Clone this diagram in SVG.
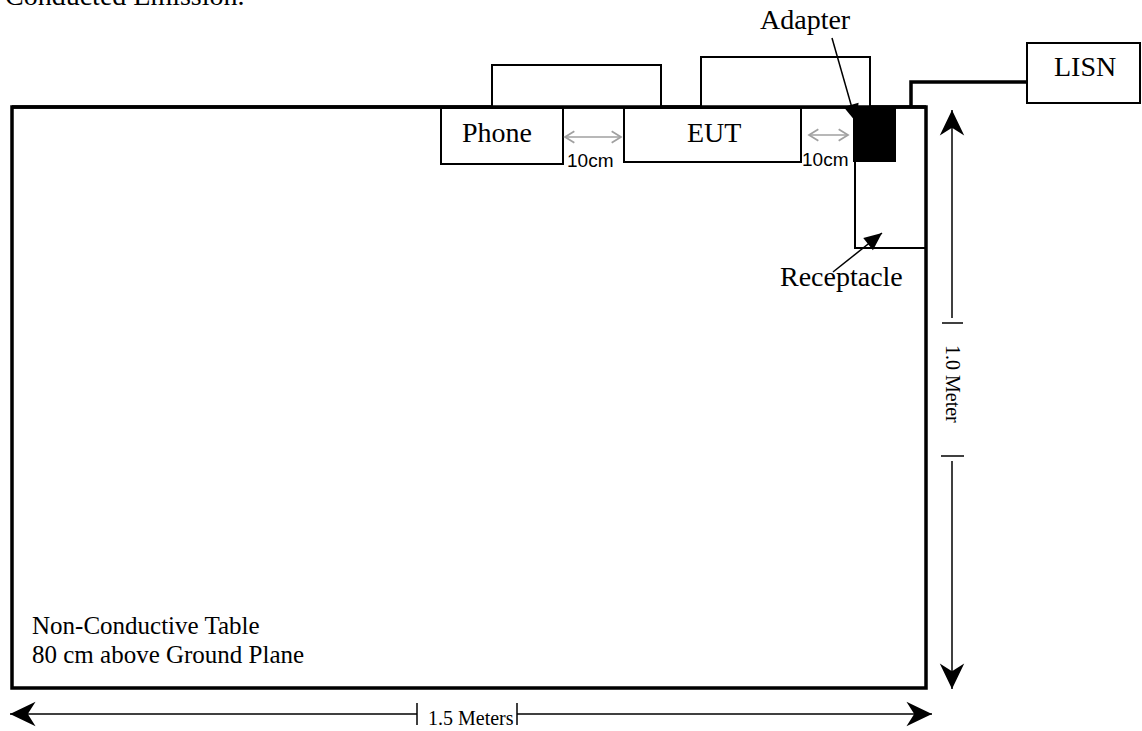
<svg xmlns="http://www.w3.org/2000/svg" width="1142" height="731" viewBox="0 0 1142 731">
<style>
.t{font-family:"Liberation Serif","Times New Roman",serif;fill:#000}
.a{font-family:"Liberation Sans",Arial,sans-serif;fill:#000}
.box{fill:#fff;stroke:#000;stroke-width:2}
.thick{fill:none;stroke:#000;stroke-width:3.5}
.dim{fill:none;stroke:#000;stroke-width:1.5}
.gray{fill:none;stroke:#a0a0a0;stroke-width:1.5}
</style>
<defs>
<marker id="chev" markerUnits="userSpaceOnUse" markerWidth="30" markerHeight="30" viewBox="-25 -13 27 26" refX="0" refY="0" orient="auto-start-reverse">
<path d="M0,0 L-23,-11 L-16,0 L-23,11 Z" fill="#000"/>
</marker>
<marker id="gv" markerUnits="userSpaceOnUse" markerWidth="14" markerHeight="14" viewBox="-10 -6 12 12" refX="0" refY="0" orient="auto-start-reverse">
<path d="M-8,-5 L0,0 L-8,5" fill="none" stroke="#a0a0a0" stroke-width="1.5"/>
</marker>
<marker id="tri" markerUnits="userSpaceOnUse" markerWidth="20" markerHeight="20" viewBox="-17 -8 18 16" refX="0" refY="0" orient="auto">
<path d="M0,0 L-16,-7 L-16,7 Z" fill="#000"/>
</marker>
</defs>
<text class="t" x="5" y="5" font-size="28">Conducted Emission.</text>
<g id="table">
<rect x="12" y="107" width="914" height="581" fill="#fff" stroke="#000" stroke-width="3.5"/>
<text class="t" x="32" y="634" font-size="25">Non-Conductive Table</text>
<text class="t" x="32" y="663" font-size="25">80 cm above Ground Plane</text>
</g>
<g id="phone-top"><rect class="box" x="492" y="65" width="169" height="42"/></g>
<g id="eut-top"><rect class="box" x="701" y="57" width="169" height="50"/></g>
<g id="phone"><rect class="box" x="441" y="108" width="122" height="56"/><text class="t" x="462" y="142" font-size="28">Phone</text></g>
<g id="eut"><rect class="box" x="624" y="108" width="177" height="54"/><text class="t" x="687" y="142" font-size="28">EUT</text></g>
<g id="receptacle"><path d="M855,107 V248 H926" fill="none" stroke="#000" stroke-width="2"/><text class="t" x="780" y="286" font-size="28">Receptacle</text></g>
<g id="adapter"><rect x="853" y="108" width="43" height="54" fill="#000"/><text class="t" x="760" y="29" font-size="28">Adapter</text></g>
<g id="lisn"><rect class="box" x="1027" y="43" width="113" height="60"/><text class="t" x="1054" y="76" font-size="28">LISN</text></g>
<line x1="12" y1="107" x2="926" y2="107" stroke="#000" stroke-width="3.5"/>
<g id="connectors">
<path class="thick" d="M911,107 V82 H1027"/>
<line class="gray" x1="565" y1="137" x2="621" y2="137" marker-start="url(#gv)" marker-end="url(#gv)"/>
<line class="gray" x1="809" y1="135" x2="848" y2="135" marker-start="url(#gv)" marker-end="url(#gv)"/>
<text class="a" x="567" y="167" font-size="19">10cm</text>
<text class="a" x="802" y="166" font-size="19">10cm</text>
<line x1="832" y1="38" x2="856" y2="122" stroke="#000" stroke-width="1.5" marker-end="url(#tri)"/>
<line x1="833" y1="272" x2="882" y2="233" stroke="#000" stroke-width="1.5" marker-end="url(#tri)"/>
<line class="dim" x1="952" y1="318" x2="952" y2="110" marker-end="url(#chev)"/>
<line class="dim" x1="942" y1="323" x2="963" y2="323"/>
<line class="dim" x1="941" y1="456" x2="964" y2="456"/>
<line class="dim" x1="952" y1="461" x2="952" y2="689" marker-end="url(#chev)"/>
<text class="t" font-size="20" transform="translate(946,345) rotate(90)">1.0 Meter</text>
<line class="dim" x1="417" y1="714" x2="10" y2="714" marker-end="url(#chev)"/>
<line class="dim" x1="417" y1="703" x2="417" y2="725"/>
<line class="dim" x1="517" y1="703" x2="517" y2="725"/>
<line class="dim" x1="517" y1="714" x2="932" y2="714" marker-end="url(#chev)"/>
<text class="t" x="428" y="725" font-size="20">1.5 Meters</text>
</g>
</svg>
